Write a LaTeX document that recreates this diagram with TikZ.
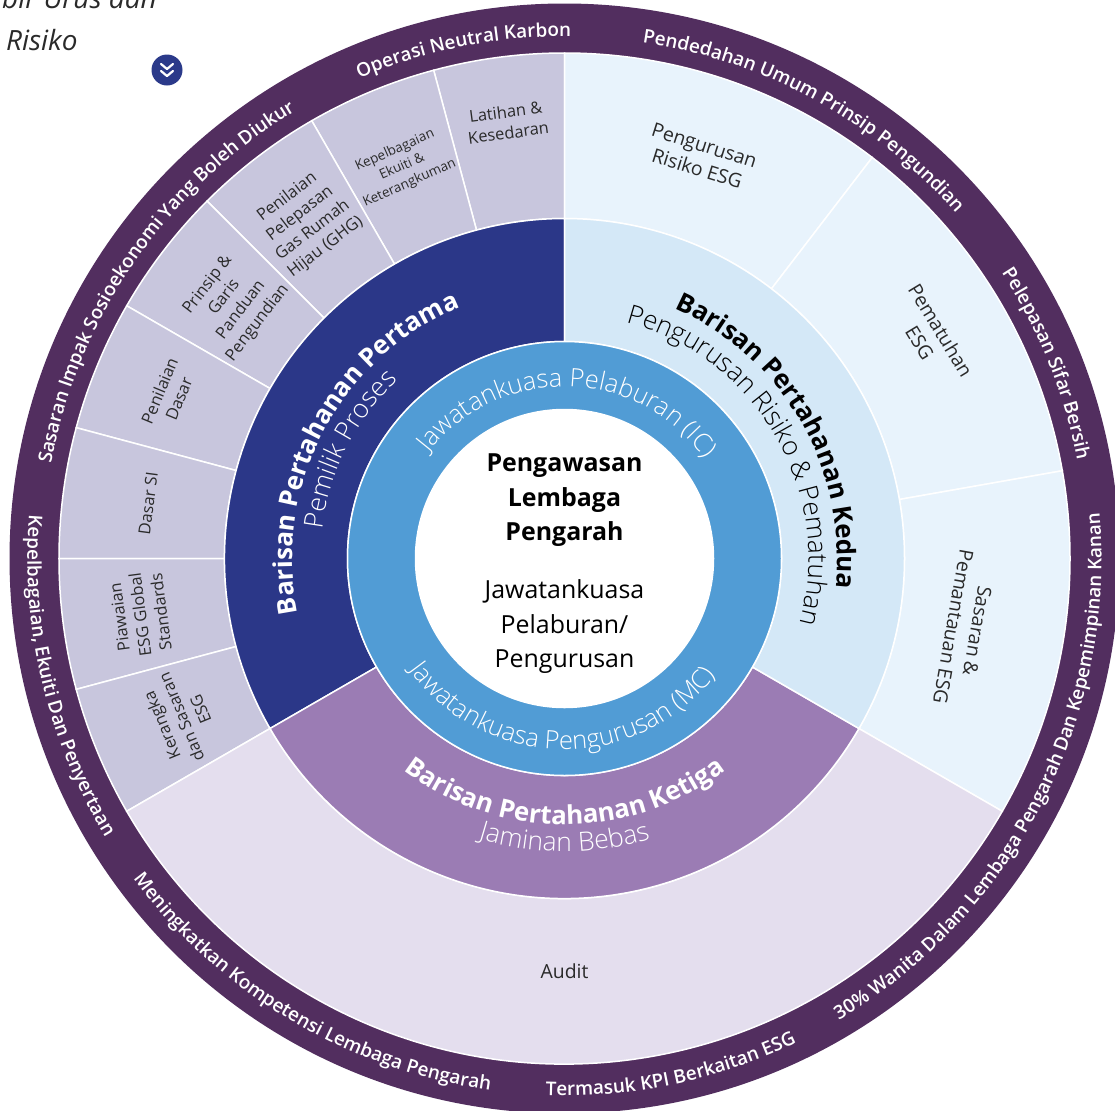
\documentclass[tikz,border=0pt]{standalone}
\usepackage{fontspec}
\setmainfont{Open Sans}
\IfFontExistsTF{Open Sans Light}{\newfontfamily\lightfam{Open Sans Light}}{\newfontfamily\lightfam{Open Sans}}
\IfFontExistsTF{Open Sans Semibold}{\newfontfamily\ringfam{Open Sans Semibold}}{\newfontfamily\ringfam{Open Sans}[FakeBold=1.2]}
\usetikzlibrary{decorations.text,calc}
\definecolor{ringpurple}{HTML}{522E5F}
\definecolor{lav}{HTML}{C8C6DD}
\definecolor{paleblue}{HTML}{E8F3FC}
\definecolor{kedua}{HTML}{D4E8F7}
\definecolor{navy}{HTML}{2B3788}
\definecolor{ketiga}{HTML}{9B7CB4}
\definecolor{auditc}{HTML}{E4DEEE}
\definecolor{bluering}{HTML}{519CD5}
\definecolor{txt}{HTML}{2A2A2A}
\definecolor{icon}{HTML}{2B3A8A}
\newcommand\mysector[5]{\filldraw[sectorline,fill=#5] (#1:#3) arc[start angle=#1,end angle=#2,radius=#3] -- (#2:#4) arc[start angle=#2,end angle=#1,radius=#4] -- cycle;}
\newcommand\cwlabel[4]{\path[decorate,decoration={text along path,text align=center,text={|#3|#4}}] (#1+85:#2) arc[start angle=#1+85,end angle=#1-85,radius=#2];}
\newcommand\ccwlabel[4]{\path[decorate,decoration={text along path,text align=center,text={|#3|#4}}] (#1-85:#2) arc[start angle=#1-85,end angle=#1+85,radius=#2];}
\newcommand\ringlbl{\ringfam\fontsize{19}{22}\selectfont\color{white}}
\newcommand\titlew{\bfseries\fontsize{26}{30}\selectfont\color{white}}
\newcommand\titlek{\bfseries\fontsize{26}{30}\selectfont\color{black}}
\newcommand\subw{\lightfam\fontsize{26.5}{30}\selectfont\color{white}}
\newcommand\subk{\lightfam\fontsize{26.5}{30}\selectfont\color{black}}
\newcommand\blw{\lightfam\fontsize{25.5}{30}\selectfont\color{white}}
\begin{document}
\begin{tikzpicture}[x=1bp,y=1bp,
  sectorline/.style={draw=white,line width=1.5bp},
  cell/.style={text=txt,align=center,inner sep=0pt,font=\fontsize{16.5}{21}\selectfont},
  cellsmall/.style={text=txt,align=center,inner sep=0pt,font=\fontsize{13.5}{18}\selectfont},
  cellbig/.style={text=txt,align=center,inner sep=0pt,font=\fontsize{19.5}{24.5}\selectfont},
  centerbold/.style={anchor=base,inner sep=0pt,text=black,font=\bfseries\fontsize{25}{30}\selectfont},
  centerreg/.style={anchor=base,inner sep=0pt,text=black,font=\fontsize{25}{30}\selectfont},
  heading/.style={inner sep=0pt,text=txt,font=\itshape\fontsize{28}{32}\selectfont},
  chevline/.style={white,line width=2.2bp,line cap=round,line join=round}]
\useasboundingbox (0,0) rectangle (1115,-1111);
\fill[white] (0,0) rectangle (1115,-1111);
% header fragment
\node[heading,anchor=base east] (hdr1) at (157,-8) {Tadbir Urus dan};
\node[heading,anchor=base west] (hdr2) at (6,-50) {Risiko};
\node[circle,fill=icon,minimum size=31bp,inner sep=0pt] (chev) at (167,-70) {};
\draw[chevline] ($(chev.center)+(-6,6)$) -- ($(chev.center)+(0,1)$) -- ($(chev.center)+(6,6)$);
\draw[chevline] ($(chev.center)+(-6,-1)$) -- ($(chev.center)+(0,-6)$) -- ($(chev.center)+(6,-1)$);
\begin{scope}[shift={(564.5,-558.5)}]
% outer purple ring
\fill[ringpurple] (0,0) circle[radius=555];
% left cells
\mysector{90}{105}{340}{505.5}{lav}
\mysector{105}{120}{340}{505.5}{lav}
\mysector{120}{135}{340}{505.5}{lav}
\mysector{135}{150}{340}{505.5}{lav}
\mysector{150}{165}{340}{505.5}{lav}
\mysector{165}{180}{340}{505.5}{lav}
\mysector{180}{195}{340}{505.5}{lav}
\mysector{195}{210}{340}{505.5}{lav}
% right cells
\mysector{52.5}{90}{340}{505.5}{paleblue}
\mysector{10}{52.5}{340}{505.5}{paleblue}
\mysector{-30}{10}{340}{505.5}{paleblue}
% audit
\mysector{210}{330}{340}{505.5}{auditc}
% middle ring
\mysector{90}{210}{217}{340}{navy}
\mysector{210}{330}{217}{340}{ketiga}
\mysector{-30}{90}{217}{340}{kedua}
% blue ring and centre
\filldraw[sectorline,fill=bluering] (0,0) circle[radius=217];
\filldraw[sectorline,fill=white] (0,0) circle[radius=149];
% outer ring labels
\cwlabel{101.2}{522}{\ringlbl}{Operasi Neutral Karbon}
\cwlabel{61.4}{522}{\ringlbl}{Pendedahan Umum Prinsip Pengundian}
\cwlabel{22}{522}{\ringlbl}{Pelepasan Sifar Bersih}
\cwlabel{145.3}{522}{\ringlbl}{Sasaran Impak Sosioekonomi Yang Boleh Diukur}
\ccwlabel{-27.2}{537}{\ringlbl}{30{\%} Wanita Dalam Lembaga Pengarah Dan Kepemimpinan Kanan}
\ccwlabel{-78.2}{537}{\ringlbl}{Termasuk KPI Berkaitan ESG}
\ccwlabel{239.3}{537}{\ringlbl}{Meningkatkan Kompetensi Lembaga Pengarah}
\ccwlabel{193.3}{537}{\ringlbl}{Kepelbagaian, Ekuiti Dan Penyertaan}
% middle ring labels
\cwlabel{152}{272}{\titlew}{Barisan Pertahanan Pertama}
\cwlabel{153}{244}{\subw}{Pemilik Proses}
\cwlabel{30}{273}{\titlek}{Barisan Pertahanan Kedua}
\cwlabel{30}{244}{\subk}{Pengurusan Risiko {\&} Pematuhan}
\ccwlabel{270}{266}{\titlew}{Barisan Pertahanan Ketiga}
\ccwlabel{270}{293}{\subw}{Jaminan Bebas}
% blue ring labels
\cwlabel{88.8}{172}{\blw}{Jawatankuasa Pelaburan (IC)}
\ccwlabel{269}{191}{\blw}{Jawatankuasa Pengurusan (MC)}
% centre text
\node[centerbold] (c1) at (0,87) {Pengawasan};
\node[centerbold] (c2) at (0,52) {Lembaga};
\node[centerbold] (c3) at (0,18.5) {Pengarah};
\node[centerreg] (c4) at (0,-39.5) {Jawatankuasa};
\node[centerreg] (c5) at (0,-74.5) {Pelaburan/};
\node[centerreg] (c6) at (0,-108.5) {Pengurusan};
% cell texts
\node[cell,rotate=7.5] (latihan) at (97.5:440) {Latihan \&\\Kesedaran};
\node[cellsmall,rotate=24] (kepel) at (112.5:424) {Kepelbagaian\\Ekuiti \&\\Keterangkuman};
\node[cell,rotate=37.5] (ghg) at (127.5:424) {Penilaian\\Pelepasan\\Gas Rumah\\Hijau (GHG)};
\node[cell,rotate=52.5] (prinsip) at (142.5:418) {Prinsip \&\\Garis\\Panduan\\Pengundian};
\node[cell,rotate=67.5] (pdasar) at (157.5:428) {Penilaian\\Dasar};
\node[cell,rotate=82.5] (dasarsi) at (172.5:420) {Dasar SI};
\node[cell,rotate=97.5] (piawaian) at (187.5:428) {Piawaian\\ESG Global\\Standards};
\node[cell,rotate=112.5] (kerangka) at (202.5:415) {Kerangka\\dan Sasaran\\ESG};
\node[cellbig,rotate=-17.5] (risiko) at (71.25:424) {Pengurusan\\Risiko ESG};
\node[cellbig,rotate=-58.75] (pematuhan) at (31.25:428) {Pematuhan\\ESG};
\node[cellbig,rotate=-100] (sasaran) at (-10:407) {Sasaran \&\\Pemantauan ESG};
\node[cellbig] (audit) at (0,-413) {Audit};
\end{scope}
\end{tikzpicture}
\end{document}
